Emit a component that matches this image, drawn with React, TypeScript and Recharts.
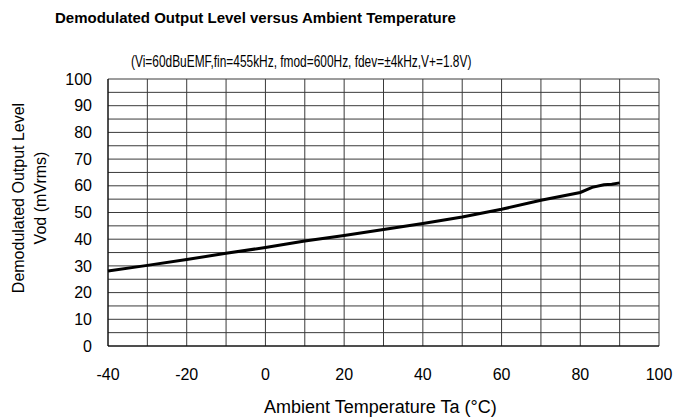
import React from 'react';
import { LineChart, Line, XAxis, YAxis, CartesianGrid, ReferenceLine } from 'recharts';

const temps = [-40, -30, -20, -10, 0, 10, 20, 30, 40, 50, 60, 70, 80, 83, 86, 88, 90];
const vod = [28.1, 30.2, 32.4, 34.7, 36.9, 39.3, 41.4, 43.6, 45.9, 48.3, 51.2, 54.6, 57.5, 59.4, 60.4, 60.6, 61.1];

const xTicks = [-40, -20, 0, 20, 40, 60, 80, 100];
const yTicks = [0, 10, 20, 30, 40, 50, 60, 70, 80, 90, 100];
const xGrid = [-40, -30, -20, -10, 0, 10, 20, 30, 40, 50, 60, 70, 80, 90, 100];
const yHalfGrid = [5, 15, 25, 35, 45, 55, 65, 75, 85, 95];

const data = temps.map((t, i) => ({ t, vod: vod[i] }));

const font = '"Liberation Sans", Arial, sans-serif';

const App: React.FC = () => {
    return (
        <div style={{ position: 'fixed', left: 0, top: 0, width: 694, height: 419, background: '#fff', fontFamily: font, color: '#000' }}>
            <div style={{ position: 'absolute', left: 55, top: 9, fontWeight: 'bold', fontSize: 15, whiteSpace: 'nowrap' }}>
                Demodulated Output Level versus Ambient Temperature
            </div>
            <div style={{ position: 'absolute', left: 131, top: 52, fontSize: 17, whiteSpace: 'nowrap', transform: 'scaleX(0.7)', transformOrigin: 'left top' }}>
                (Vi=60dBuEMF,fin=455kHz, fmod=600Hz, fdev=±4kHz,V+=1.8V)
            </div>
            <div style={{ position: 'absolute', left: 30, top: 198, width: 0, height: 0 }}>
                <div style={{ position: 'absolute', transform: 'translate(-50%, -50%) rotate(-90deg)', fontSize: 16, lineHeight: '22px', textAlign: 'center', whiteSpace: 'nowrap' }}>
                    Demodulated Output Level<br />Vod (mVrms)
                </div>
            </div>
            <div style={{ position: 'absolute', left: 264, top: 397, fontSize: 18, whiteSpace: 'nowrap' }}>
                Ambient Temperature Ta (°C)
            </div>
            <LineChart width={694} height={419} data={data} margin={{ top: 79, right: 35, left: 48, bottom: 43 }}>
                <CartesianGrid stroke="#3a3a3a" strokeWidth={1} verticalValues={xGrid} />
                {yHalfGrid.map((v) => (
                    <ReferenceLine key={v} y={v} stroke="#3a3a3a" strokeWidth={1} ifOverflow="hidden" />
                ))}
                <XAxis
                    dataKey="t"
                    type="number"
                    domain={[-40, 100]}
                    ticks={xTicks}
                    height={30}
                    tickSize={0}
                    tickMargin={23}
                    tickLine={false}
                    axisLine={{ stroke: '#000' }}
                    tick={{ fill: '#000', fontSize: 16, fontFamily: font }}
                />
                <YAxis
                    type="number"
                    domain={[0, 100]}
                    ticks={yTicks}
                    width={60}
                    tickSize={0}
                    tickMargin={16}
                    tickLine={false}
                    axisLine={{ stroke: '#000' }}
                    tick={{ fill: '#000', fontSize: 16, fontFamily: font }}
                />
                <Line type="linear" dataKey="vod" stroke="#000" strokeWidth={3} dot={false} isAnimationActive={false} />
            </LineChart>
        </div>
    );
};

export default App;
